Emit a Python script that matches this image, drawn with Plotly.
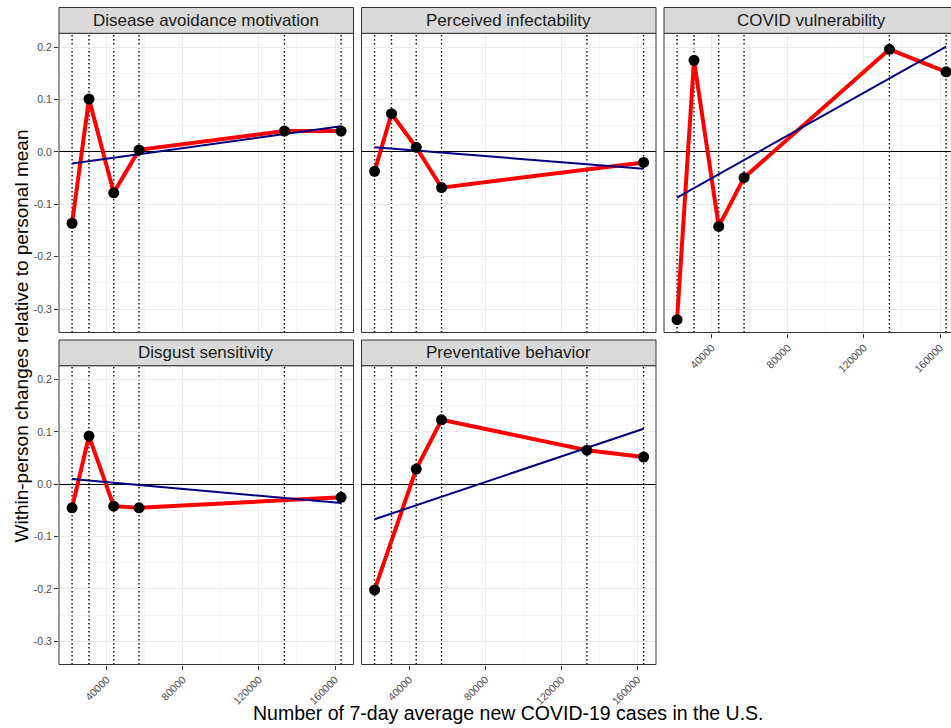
import plotly.graph_objects as go

# ---------------- data ----------------
cases = [21800, 30700, 43700, 57000, 133400, 163200]   # 7-day avg new cases (survey waves)

panel_titles = ["Disease avoidance motivation", "Perceived infectability",
                "COVID vulnerability", "Disgust sensitivity", "Preventative behavior"]

disease_avoidance = [-0.136, 0.101, -0.078, 0.004, 0.040, 0.040]
perceived_infect = [-0.037, 0.073, 0.009, -0.068, None, -0.020]
covid_vulnerability = [-0.320, 0.175, -0.142, -0.049, 0.196, 0.153]
disgust_sensitivity = [-0.045, 0.092, -0.042, -0.045, None, -0.025]
preventative_behavior = [-0.202, None, 0.029, 0.123, 0.065, 0.052]

# fitted (blue) trend line values at first and last observed wave
fit_disease = [-0.022, 0.049]
fit_infect = [0.009, -0.032]
fit_vuln = [-0.087, 0.201]
fit_disgust = [0.010, -0.036]
fit_prevent = [-0.067, 0.106]

y_tick_vals = [-0.3, -0.2, -0.1, 0.0, 0.1, 0.2]
y_tick_text = ["-0.3", "-0.2", "-0.1", "0.0", "0.1", "0.2"]
y_minor_vals = [-0.25, -0.15, -0.05, 0.05, 0.15]
x_tick_vals = [40000, 80000, 120000, 160000]
x_tick_text = ["40000", "80000", "120000", "160000"]
x_minor_vals = [20000, 60000, 100000, 140000]

x_title = "Number of 7-day average new COVID-19 cases in the U.S."
y_title = "Within-person changes relative to personal mean"

series = [disease_avoidance, perceived_infect, covid_vulnerability,
          disgust_sensitivity, preventative_behavior]
fits = [fit_disease, fit_infect, fit_vuln, fit_disgust, fit_prevent]

# ---------------- layout geometry ----------------
W, H = 951, 728
FONT = "Liberation Sans, Arial, Helvetica, sans-serif"


def fx(p):
    return p / W


def fy(p):
    return 1 - p / H


cols = [(59, 353.5), (361.5, 656), (664, 951)]
rows = [(33.3, 332.5), (365.7, 664.5)]
strips = [(7.5, 33.3), (340, 365.7)]
cells = [(0, 0), (0, 1), (0, 2), (1, 0), (1, 1)]
full_w = 294.5
X_MIN, X_MAX = 14930, 169720
Y_RANGE = [-0.3445, 0.2265]

fig = go.Figure()
layout = dict(
    width=W, height=H, margin=dict(l=0, r=0, t=0, b=0),
    paper_bgcolor="white", plot_bgcolor="white", showlegend=False,
    font=dict(family=FONT, color="#1A1A1A"), hovermode=False,
)
shapes = []
annotations = []

for i, (r, c) in enumerate(cells):
    k = i + 1
    xa = "xaxis" if k == 1 else f"xaxis{k}"
    ya = "yaxis" if k == 1 else f"yaxis{k}"
    xr = "x" if k == 1 else f"x{k}"
    yr = "y" if k == 1 else f"y{k}"
    x0p, x1p = cols[c]
    y0p, y1p = rows[r]
    width_px = x1p - x0p
    xmax = X_MIN + width_px / full_w * (X_MAX - X_MIN)

    show_x = (r == 1) or (k == 3)
    show_y = (c == 0)

    layout[xa] = dict(
        domain=[fx(x0p), fx(x1p)], anchor=yr, range=[X_MIN, xmax],
        tickvals=x_tick_vals, ticktext=x_tick_text, showticklabels=show_x,
        ticks="outside" if show_x else "", ticklen=4, tickwidth=1, tickcolor="#333333",
        tickangle=-45, tickfont=dict(size=10.5, color="#4D4D4D", family=FONT),
        showgrid=True, gridcolor="#EBEBEB", gridwidth=1, zeroline=False, showline=False,
        minor=dict(tickvals=x_minor_vals, showgrid=True, gridcolor="#EBEBEB", gridwidth=0.5),
    )
    layout[ya] = dict(
        domain=[fy(y1p), fy(y0p)], anchor=xr, range=Y_RANGE,
        tickvals=y_tick_vals, ticktext=y_tick_text, showticklabels=show_y,
        ticks="outside" if show_y else "", ticklen=4, tickwidth=1, tickcolor="#333333",
        tickfont=dict(size=10.5, color="#4D4D4D", family=FONT),
        showgrid=True, gridcolor="#EBEBEB", gridwidth=1,
        zeroline=True, zerolinecolor="#000000", zerolinewidth=1, showline=False,
        minor=dict(tickvals=y_minor_vals, showgrid=True, gridcolor="#EBEBEB", gridwidth=0.5),
    )

    # dotted vertical lines at every wave
    for cx in cases:
        shapes.append(dict(type="line", xref=xr, yref=f"{yr} domain", x0=cx, x1=cx, y0=0, y1=1,
                           line=dict(color="black", width=1.4, dash="1.5px,2.5px"), layer="below"))

    vals = series[i]
    xs = [x for x, v in zip(cases, vals) if v is not None]
    ys = [v for v in vals if v is not None]

    fig.add_trace(go.Scatter(x=xs, y=ys, mode="lines", xaxis=xr, yaxis=yr,
                             line=dict(color="#FF0000", width=4), hoverinfo="skip"))
    fig.add_trace(go.Scatter(x=[xs[0], xs[-1]], y=fits[i], mode="lines", xaxis=xr, yaxis=yr,
                             line=dict(color="#000080", width=2), hoverinfo="skip"))
    fig.add_trace(go.Scatter(x=xs, y=ys, mode="markers", xaxis=xr, yaxis=yr,
                             marker=dict(color="black", size=11), cliponaxis=False,
                             hoverinfo="skip"))

    # panel border
    right_edge = x0p + full_w
    shapes.append(dict(type="rect", xref="paper", yref="paper",
                       x0=fx(x0p), x1=fx(right_edge), y0=fy(y1p), y1=fy(y0p),
                       line=dict(color="#333333", width=1), fillcolor="rgba(0,0,0,0)",
                       layer="above"))
    # strip
    s0, s1 = strips[r]
    shapes.append(dict(type="rect", xref="paper", yref="paper",
                       x0=fx(x0p), x1=fx(right_edge), y0=fy(s1), y1=fy(s0),
                       line=dict(color="#333333", width=1), fillcolor="#D9D9D9",
                       layer="above"))
    annotations.append(dict(text=panel_titles[i], xref="paper", yref="paper",
                            x=fx(x0p + full_w / 2), y=fy((s0 + s1) / 2),
                            xanchor="center", yanchor="middle", showarrow=False,
                            font=dict(size=17, color="#1A1A1A", family=FONT)))

annotations.append(dict(text=x_title, xref="paper", yref="paper", x=fx(508), y=fy(713),
                        xanchor="center", yanchor="middle", showarrow=False,
                        font=dict(size=19.5, color="black", family=FONT)))
annotations.append(dict(text=y_title, xref="paper", yref="paper", x=fx(20.5), y=fy(336),
                        xanchor="center", yanchor="middle", showarrow=False, textangle=-90,
                        font=dict(size=19, color="black", family=FONT)))

layout["shapes"] = shapes
layout["annotations"] = annotations
fig.update_layout(**layout)
fig.write_html("out.html", config={"displayModeBar": False, "staticPlot": True},
               post_script="document.body.style.margin='0';document.body.style.overflow='hidden';")
